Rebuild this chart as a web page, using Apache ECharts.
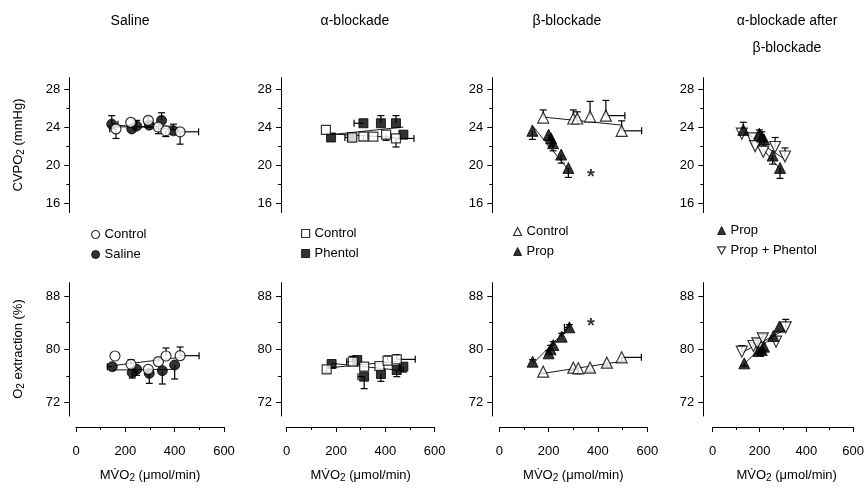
<!DOCTYPE html>
<html><head><meta charset="utf-8">
<script src="https://cdn.jsdelivr.net/npm/echarts@6/dist/echarts.min.js"></script>
<style>html,body{margin:0;padding:0;background:#fff}#c{width:867px;height:488px}</style>
</head><body><div id="c"></div>
<script>
// ---------------- DATA ----------------
const xTickLabels = [0, 200, 400, 600];
const cvTicks = [16, 20, 24, 28];
const cvMinorTicks = [18, 22, 26];
const oeTicks = [72, 80, 88];
const oeMinorTicks = [76, 84];

// Saline panel
const salCtrlCV = [[162,23.8],[222,24.5],[293,24.7],[334,24.0],[364,23.6],[422,23.5]];
const salCtrlCVeY = [-1.0,0,0.4,-0.7,-0.6,-1.3];
const salCtrlCVeX = [-25,0,0,0,0,75];
const salSalCV = [[145,24.3],[226,23.8],[246,24.1],[297,24.2],[347,24.7],[395,23.6]];
const salSalCVeY = [0.9,0,0.6,0.3,0.8,0.7];
const salSalCVeX = [25,0,0,0,0,0];
const salCtrlCVFit = [[162,24.2],[422,23.7]];
const salSalCVFit = [[145,24.0],[395,24.1]];

const salCtrlOE = [[158,79.0],[223,77.75],[293,77.0],[334,78.15],[365,79.0],[422,79.05]];
const salCtrlOEeY = [0,0.7,0,0.6,1.2,1.3];
const salCtrlOEeX = [0,0,0,0,0,77];
const salSalOE = [[147,77.4],[228,76.5],[246,77.0],[297,76.4],[350,76.8],[400,77.65]];
const salSalOEeY = [0,-0.8,-0.9,-1.5,-2.0,-2.1];
const salSalOEeX = [-20,0,0,0,0,0];
const salCtrlOEFit = [[158,77.6],[422,78.8]];
const salSalOEFit = [[147,76.9],[400,77.0]];

// alpha-blockade panel
const alpCtrlCV = [[159,23.7],[266,22.9],[311,23.0],[351,23.0],[403,23.2],[443,22.8]];
const alpCtrlCVeY = [0,0,-0.4,0,-0.6,-0.9];
const alpCtrlCVeX = [0,-30,0,0,0,73];
const alpPheCV = [[180,22.9],[264,22.9],[311,24.4],[382,24.4],[443,24.4],[473,23.2]];
const alpPheCVeY = [0,0,0,0.8,0.8,0];
const alpPheCVeX = [0,0,-38,0,0,0];
const alpCtrlCVFit = [[159,23.3],[443,22.9]];
const alpPheCVFit = [[180,23.2],[473,24.0]];

const alpCtrlOE = [[162,77.0],[268,78.15],[314,77.4],[376,77.5],[409,78.3],[446,78.5]];
const alpCtrlOEeY = [-0.5,0.8,0,0,0.7,0.7];
const alpCtrlOEeX = [0,-25,0,0,0,75];
const alpPheOE = [[182,77.8],[286,78.4],[314,75.9],[382,76.3],[446,76.9],[473,77.4]];
const alpPheOEeY = [0,0,-1.8,-1.1,-1.0,-0.8];
const alpPheOEeX = [0,0,-25,0,0,0];
const alpCtrlOEFit = [[162,77.2],[446,78.2]];
const alpPheOEFit = [[182,77.9],[473,76.8]];

// beta-blockade panel
const betCtrlCV = [[178,25.0],[300,24.9],[316,24.9],[368,25.1],[432,25.2],[496,23.6]];
const betCtrlCVeY = [0.8,0.9,0.7,1.6,1.6,1.05];
const betCtrlCVeX = [0,0,0,0,77,81];
const betPropCV = [[134,23.6],[200,23.2],[210,22.8],[218,22.3],[251,21.1],[280,19.7]];
const betPropCVeY = [-0.9,-0.6,-0.8,-0.8,-0.9,-1.0];
const betPropCVeX = [0,0,0,0,0,0];
const betCtrlCVFit = [[178,25.05],[496,24.2]];
const betPropCVFit = [[131,24.25],[280,19.5]];
const betStarCV = [[371,19.1]];

const betCtrlOE = [[178,76.65],[300,77.25],[320,77.15],[368,77.25],[436,78.0],[496,78.8]];
const betCtrlOEeY = [-0.3,-0.4,-0.8,-0.6,-0.5,-0.6];
const betCtrlOEeX = [0,0,0,0,0,80];
const betPropOE = [[135,78.15],[200,79.4],[208,80.0],[219,80.65],[253,81.9],[284,83.3]];
const betPropOEeY = [0.3,0.4,0.6,0.5,0.5,0.4];
const betPropOEeX = [0,0,0,0,0,-20];
const betCtrlOEFit = [[178,76.4],[496,78.2]];
const betPropOEFit = [[135,77.8],[284,83.4]];
const betStarOE = [[371,84.0]];

// alpha-blockade after beta-blockade panel
const abPropCV = [[124,23.7],[189,23.3],[199,23.0],[208,22.7],[243,21.0],[273,19.7]];
const abPropCVeY = [0.8,0.4,0.5,-0.7,-0.9,-1.1];
const abPropCVeX = [0,0,0,0,0,0];
const abPPCV = [[118,23.3],[160,22.8],[172,22.0],[205,21.4],[253,21.9],[293,20.9]];
const abPPCVeY = [0,0,0,0,1.0,0.9];
const abPPCVeX = [0,0,0,0,0,0];
const abPropCVFit = [[124,24.0],[273,19.6]];
const abPPCVFit = [[118,23.6],[293,20.6]];

const abPropOE = [[128,77.9],[185,79.75],[199,79.9],[208,80.4],[246,82.0],[270,83.4]];
const abPropOEeY = [-0.4,-0.4,-0.5,-0.5,-0.4,0];
const abPropOEeX = [0,0,0,0,0,0];
const abPPOE = [[118,79.65],[165,80.5],[181,80.9],[203,81.65],[257,81.15],[296,83.3]];
const abPPOEeY = [0.9,0.5,0.7,0.6,0.5,1.2];
const abPPOEeX = [0,0,0,0,0,0];
const abPropOEFit = [[128,77.8],[270,83.0]];
const abPPOEFit = [[118,79.5],[296,83.0]];

const panelTitles = ['Saline', 'α-blockade', 'β-blockade', 'α-blockade after\nβ-blockade'];

// ---------------- LAYOUT ----------------
const FONT = '"Liberation Sans", Arial, sans-serif';
const yAxisX = [69.3, 281, 492.3, 703.3];
const x0px = [76, 286.7, 499.3, 712.7];
const xLen = 148;
const rows = [{top: 77.6, height: 135, min: 15, max: 29.2, ticks: cvTicks, minor: cvMinorTicks},
              {top: 282.7, height: 133.3, min: 70, max: 90, ticks: oeTicks, minor: oeMinorTicks}];

const OPEN = {color: '#fff', borderColor: '#000', borderWidth: 1.2};
const FILL = {color: '#000', borderColor: '#000', borderWidth: 1};
const DOWN_TRI = 'path://M0,0 L10,0 L5,9 Z';

const panels = [
  {col:0,row:0,sets:[
    {name:'Saline',symbol:'circle',size:10,style:FILL,data:salSalCV,ey:salSalCVeY,ex:salSalCVeX,fit:salSalCVFit},
    {name:'Control',symbol:'circle',size:10,style:OPEN,data:salCtrlCV,ey:salCtrlCVeY,ex:salCtrlCVeX,fit:salCtrlCVFit}]},
  {col:0,row:1,sets:[
    {name:'Saline',symbol:'circle',size:10,style:FILL,data:salSalOE,ey:salSalOEeY,ex:salSalOEeX,fit:salSalOEFit},
    {name:'Control',symbol:'circle',size:10,style:OPEN,data:salCtrlOE,ey:salCtrlOEeY,ex:salCtrlOEeX,fit:salCtrlOEFit}]},
  {col:1,row:0,sets:[
    {name:'Phentol',symbol:'rect',size:9,style:FILL,data:alpPheCV,ey:alpPheCVeY,ex:alpPheCVeX,fit:alpPheCVFit},
    {name:'Control',symbol:'rect',size:9,style:OPEN,data:alpCtrlCV,ey:alpCtrlCVeY,ex:alpCtrlCVeX,fit:alpCtrlCVFit}]},
  {col:1,row:1,sets:[
    {name:'Phentol',symbol:'rect',size:9,style:FILL,data:alpPheOE,ey:alpPheOEeY,ex:alpPheOEeX,fit:alpPheOEFit},
    {name:'Control',symbol:'rect',size:9,style:OPEN,data:alpCtrlOE,ey:alpCtrlOEeY,ex:alpCtrlOEeX,fit:alpCtrlOEFit}]},
  {col:2,row:0,star:betStarCV,sets:[
    {name:'Prop',symbol:'triangle',size:11,style:FILL,data:betPropCV,ey:betPropCVeY,ex:betPropCVeX,fit:betPropCVFit},
    {name:'Control',symbol:'triangle',size:11,style:OPEN,data:betCtrlCV,ey:betCtrlCVeY,ex:betCtrlCVeX,fit:betCtrlCVFit}]},
  {col:2,row:1,star:betStarOE,sets:[
    {name:'Prop',symbol:'triangle',size:11,style:FILL,data:betPropOE,ey:betPropOEeY,ex:betPropOEeX,fit:betPropOEFit},
    {name:'Control',symbol:'triangle',size:11,style:OPEN,data:betCtrlOE,ey:betCtrlOEeY,ex:betCtrlOEeX,fit:betCtrlOEFit}]},
  {col:3,row:0,sets:[
    {name:'Prop + Phentol',symbol:DOWN_TRI,size:11,style:OPEN,data:abPPCV,ey:abPPCVeY,ex:abPPCVeX,fit:abPPCVFit},
    {name:'Prop',symbol:'triangle',size:11,style:FILL,data:abPropCV,ey:abPropCVeY,ex:abPropCVeX,fit:abPropCVFit}]},
  {col:3,row:1,sets:[
    {name:'Prop + Phentol',symbol:DOWN_TRI,size:11,style:OPEN,data:abPPOE,ey:abPPOEeY,ex:abPPOEeX,fit:abPPOEFit},
    {name:'Prop',symbol:'triangle',size:11,style:FILL,data:abPropOE,ey:abPropOEeY,ex:abPropOEeX,fit:abPropOEFit}]}
];

const grid = [], xAxis = [], yAxis = [], series = [];
const BLACK = '#000';

function errRender(params, api) {
  const x = api.value(0), y = api.value(1), ey = api.value(2), ex = api.value(3);
  const p = api.coord([x, y]);
  const cap = 3.5, st = {stroke: BLACK, lineWidth: 1.2};
  const ch = [];
  if (ey) {
    const q = api.coord([x, y + ey]);
    ch.push({type:'line', shape:{x1:p[0], y1:p[1], x2:q[0], y2:q[1]}, style:st});
    ch.push({type:'line', shape:{x1:q[0]-cap, y1:q[1], x2:q[0]+cap, y2:q[1]}, style:st});
  }
  if (ex) {
    const q = api.coord([x + ex, y]);
    ch.push({type:'line', shape:{x1:p[0], y1:p[1], x2:q[0], y2:q[1]}, style:st});
    ch.push({type:'line', shape:{x1:q[0], y1:q[1]-cap, x2:q[0], y2:q[1]+cap}, style:st});
  }
  return {type:'group', children: ch};
}

panels.forEach(pn => {
  const r = rows[pn.row];
  const gi = grid.length;
  const left = yAxisX[pn.col];
  const width = x0px[pn.col] + xLen - left;
  grid.push({left: left, top: r.top, width: width, height: r.height});
  const xMin = -(x0px[pn.col] - left) / (xLen / 600);
  const xi = xAxis.length;
  xAxis.push({gridIndex: gi, type: 'value', min: xMin, max: 600, show: false,
    axisLine: {onZero: false}});
  const yi = yAxis.length;
  yAxis.push({gridIndex: gi, type: 'value', position: 'left', min: r.min, max: r.max,
    axisLine: {show: true, onZero: false, lineStyle: {color: BLACK, width: 1}},
    axisTick: {show: true, length: 5, customValues: r.ticks, lineStyle: {color: BLACK}},
    axisLabel: {show: true, customValues: r.ticks, color: BLACK, fontSize: 13, fontFamily: FONT, margin: 9},
    splitLine: {show: false}});
  yAxis.push({gridIndex: gi, type: 'value', position: 'left', offset: 0, min: r.min, max: r.max,
    axisLine: {show: false, onZero: false},
    axisTick: {show: true, length: 3, customValues: r.minor, lineStyle: {color: BLACK}},
    axisLabel: {show: false}, splitLine: {show: false}});
  pn.sets.forEach(s => {
    series.push({type: 'line', xAxisIndex: xi, yAxisIndex: yi, data: s.fit, symbol: 'none',
      lineStyle: {color: BLACK, width: 0.9}, silent: true, z: 1, animation: false});
    series.push({type: 'custom', xAxisIndex: xi, yAxisIndex: yi, renderItem: errRender,
      data: s.data.map((p, i) => [p[0], p[1], s.ey[i] || 0, s.ex[i] || 0]),
      encode: {x: 0, y: 1}, silent: true, z: 2, animation: false});
  });
  pn.sets.forEach(s => {
    series.push({type: 'scatter', name: s.name, xAxisIndex: xi, yAxisIndex: yi, data: s.data,
      symbol: s.symbol, symbolSize: s.size, itemStyle: s.style, z: 3, animation: false});
  });
  if (pn.star) {
    series.push({type: 'scatter', xAxisIndex: xi, yAxisIndex: yi, data: pn.star, symbolSize: 1,
      itemStyle: {color: 'rgba(0,0,0,0)'}, z: 4, animation: false,
      label: {show: true, formatter: '*', position: 'inside', color: BLACK, fontSize: 20,
        fontWeight: 'bold', fontFamily: FONT, offset: [0, 4]}});
  }
});

// visible x axes (one per column)
for (let c = 0; c < 4; c++) {
  const gi = grid.length;
  grid.push({left: x0px[c], top: 426, width: xLen, height: 1});
  xAxis.push({gridIndex: gi, type: 'value', min: 0, max: 600, interval: 200,
    axisLine: {show: true, onZero: false, lineStyle: {color: BLACK, width: 1}},
    axisTick: {show: true, length: 5, lineStyle: {color: BLACK}},
    minorTick: {show: true, splitNumber: 2, length: 3, lineStyle: {color: BLACK}},
    axisLabel: {color: BLACK, fontSize: 13, fontFamily: FONT, margin: 18,
      customValues: xTickLabels},
    splitLine: {show: false}});
  yAxis.push({gridIndex: gi, type: 'value', show: false});
}

const subRich = {
  a: {fontSize: 13, fontFamily: FONT, color: BLACK},
  s: {fontSize: 10, fontFamily: FONT, color: BLACK, padding: [7, 0, 0, 0]}
};

const graphics = [];
const titleX = [130, 355, 567, 787];
panelTitles.forEach((t, i) => {
  graphics.push({type: 'text', x: titleX[i], y: 8, style: {text: t, fill: BLACK,
    font: '14px ' + FONT, textAlign: 'center', lineHeight: 27}});
});
for (let c = 0; c < 4; c++) {
  graphics.push({type: 'text', x: x0px[c] + xLen / 2, y: 475, style: {
    text: '{a|MV\u0307O}{s|2}{a| (μmol/min)}', rich: subRich, textAlign: 'center', textVerticalAlign: 'middle'}});
}
graphics.push({type: 'text', x: 18, y: 145, rotation: Math.PI / 2, style: {
  text: '{a|CVPO}{s|2}{a| (mmHg)}', rich: subRich, textAlign: 'center', textVerticalAlign: 'middle'}});
graphics.push({type: 'text', x: 18, y: 349, rotation: Math.PI / 2, style: {
  text: '{a|O}{s|2}{a| extraction (%)}', rich: subRich, textAlign: 'center', textVerticalAlign: 'middle'}});

const legText = {fontSize: 13, fontFamily: FONT, color: BLACK};
function leg(left, top, items) {
  return {left: left, top: top, orient: 'vertical', itemWidth: 8, itemHeight: 8, itemGap: 7,
    textStyle: legText, selectedMode: false, data: items};
}
const legend = [
  leg(86, 223, [{name: 'Control', icon: 'circle', itemStyle: OPEN}, {name: 'Saline', icon: 'circle', itemStyle: FILL}]),
  leg(296, 222, [{name: 'Control', icon: 'rect', itemStyle: OPEN}, {name: 'Phentol', icon: 'rect', itemStyle: FILL}]),
  leg(508, 220, [{name: 'Control', icon: 'triangle', itemStyle: OPEN}, {name: 'Prop', icon: 'triangle', itemStyle: FILL}]),
  leg(712, 219, [{name: 'Prop', icon: 'triangle', itemStyle: FILL}, {name: 'Prop + Phentol', icon: DOWN_TRI, itemStyle: OPEN}])
];

const chart = echarts.init(document.getElementById('c'));
chart.setOption({animation: false, backgroundColor: '#fff', grid, xAxis, yAxis, series, legend, graphic: graphics});
</script></body></html>
